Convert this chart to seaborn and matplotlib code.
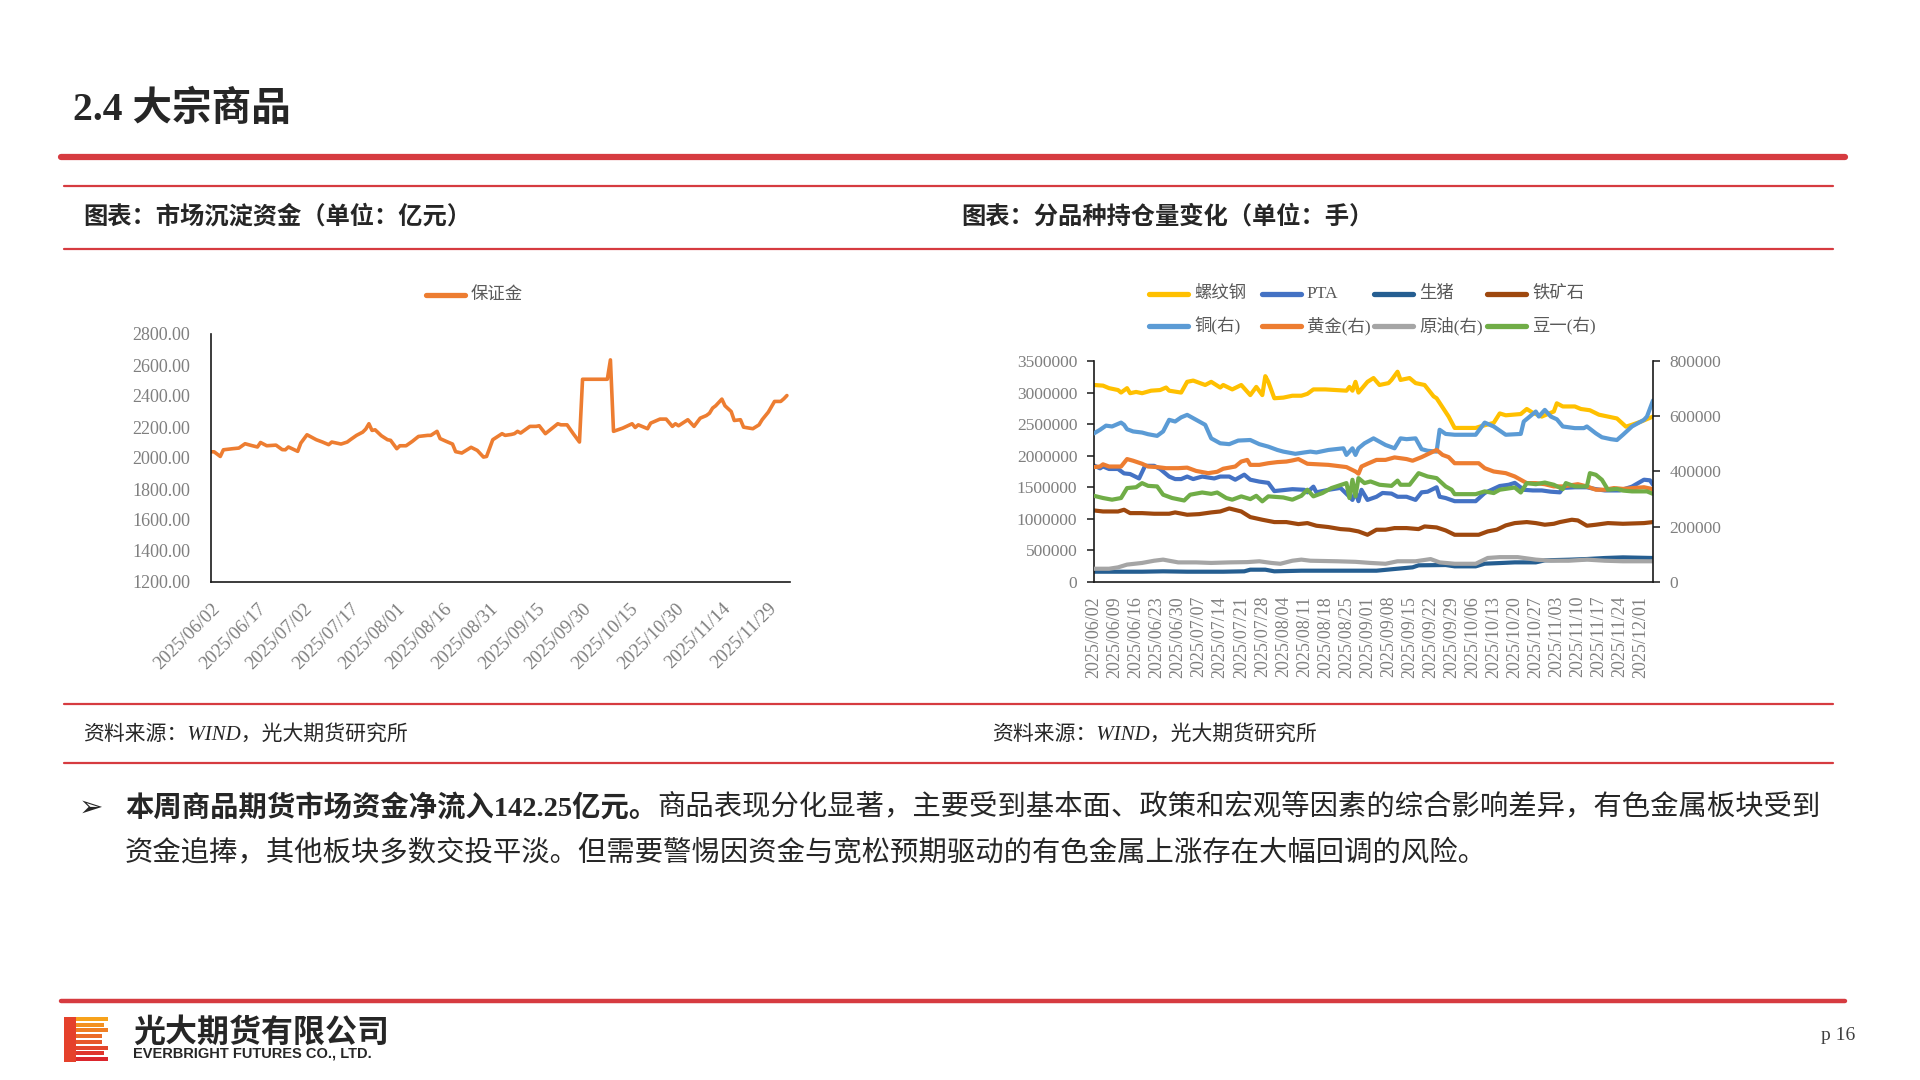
#!/usr/bin/env python3
"""Rebuild the commodity slide: market sediment funds + open interest by product."""

import matplotlib

matplotlib.use("Agg")

import matplotlib.dates as mdates  # noqa: E402
import matplotlib.pyplot as plt  # noqa: E402
import pandas as pd  # noqa: E402
import seaborn as sns  # noqa: E402
from matplotlib.lines import Line2D  # noqa: E402
from matplotlib.patches import Rectangle  # noqa: E402
from matplotlib.text import Annotation  # noqa: E402
from matplotlib.ticker import FuncFormatter  # noqa: E402

# ---------------------------------------------------------------- data
# left chart: 保证金 (亿元), dates are 2025 month-day
margin_dates = [
    "06-02", "06-03", "06-05", "06-06", "06-09", "06-11", "06-13", "06-15", "06-17", "06-18",
    "06-20", "06-23", "06-25", "06-26", "06-27", "06-30", "07-01", "07-03", "07-06", "07-08",
    "07-10", "07-11", "07-14", "07-16", "07-17", "07-19", "07-21", "07-22", "07-23", "07-24",
    "07-25", "07-27", "07-29", "07-30", "08-01", "08-02", "08-04", "08-06", "08-08", "08-11",
    "08-12", "08-14", "08-15", "08-17", "08-19", "08-20", "08-22", "08-25", "08-27", "08-29",
    "08-30", "09-01", "09-04", "09-05", "09-07", "09-08", "09-09", "09-10", "09-13", "09-15",
    "09-16", "09-18", "09-20", "09-22", "09-23", "09-25", "09-27", "09-29", "09-30", "10-08",
    "10-09", "10-10", "10-13", "10-16", "10-17", "10-18", "10-21", "10-22", "10-25", "10-27",
    "10-29", "10-30", "10-31", "11-03", "11-05", "11-07", "11-09", "11-10", "11-11", "11-12",
    "11-14", "11-15", "11-17", "11-18", "11-20", "11-21", "11-24", "11-26", "11-27", "11-29",
    "12-01", "12-03", "12-04", "12-05",
]
margin_values = [
    2040, 2040, 2010, 2053, 2060, 2064, 2092, 2081, 2071, 2100,
    2079, 2083, 2054, 2053, 2071, 2043, 2096, 2150, 2118, 2103,
    2086, 2103, 2090, 2103, 2118, 2146, 2167, 2187, 2221, 2178,
    2182, 2144, 2118, 2114, 2060, 2079, 2079, 2107, 2139, 2146,
    2146, 2172, 2125, 2107, 2090, 2041, 2032, 2069, 2049, 2006,
    2010, 2118, 2157, 2146, 2152, 2157, 2172, 2161, 2204, 2204,
    2208, 2157, 2189, 2221, 2214, 2214, 2157, 2103, 2508, 2508,
    2633, 2172, 2193, 2221, 2197, 2214, 2189, 2225, 2251, 2251,
    2204, 2221, 2208, 2247, 2204, 2257, 2274, 2289, 2322, 2337,
    2380, 2337, 2300, 2242, 2247, 2199, 2189, 2214, 2247, 2296,
    2365, 2365, 2382, 2403,
]
margin_ticks = ["06-02", "06-17", "07-02", "07-17", "08-01", "08-16", "08-31",
                "09-15", "09-30", "10-15", "10-30", "11-14", "11-29"]

# right chart: open interest (手); left axis
rebar_dates = [
    "06-02", "06-05", "06-07", "06-10", "06-11", "06-13", "06-14", "06-16", "06-18", "06-21",
    "06-24", "06-26", "06-27", "07-01", "07-03", "07-05", "07-09", "07-11", "07-14", "07-15",
    "07-18", "07-21", "07-24", "07-26", "07-28", "07-29", "07-30", "08-01", "08-04", "08-07",
    "08-10", "08-12", "08-14", "08-18", "08-25", "08-26", "08-27", "08-28", "08-29", "09-01",
    "09-03", "09-05", "09-08", "09-09", "09-11", "09-12", "09-15", "09-17", "09-20", "09-23",
    "09-24", "09-28", "09-30", "10-07", "10-09", "10-13", "10-15", "10-17", "10-22", "10-24",
    "10-26", "10-29", "11-02", "11-03", "11-05", "11-09", "11-11", "11-14", "11-17", "11-20",
    "11-23", "11-26", "11-28", "12-01", "12-05",
]
rebar_values = [
    3120000, 3110000, 3070000, 3040000, 3000000, 3070000, 2990000, 3010000, 2990000, 3030000,
    3040000, 3080000, 3030000, 3000000, 3170000, 3190000, 3120000, 3170000, 3080000, 3120000,
    3050000, 3120000, 2960000, 3090000, 2960000, 3260000, 3170000, 2910000, 2920000, 2950000,
    2950000, 2980000, 3050000, 3050000, 3030000, 3090000, 3030000, 3170000, 3000000, 3170000,
    3230000, 3120000, 3150000, 3200000, 3330000, 3200000, 3230000, 3150000, 3120000, 2940000,
    2910000, 2620000, 2440000, 2440000, 2470000, 2520000, 2670000, 2640000, 2660000, 2740000,
    2680000, 2620000, 2700000, 2830000, 2780000, 2780000, 2740000, 2720000, 2650000, 2620000,
    2590000, 2460000, 2490000, 2540000, 2620000,
]
pta_dates = [
    "06-02", "06-04", "06-05", "06-07", "06-10", "06-12", "06-14", "06-17", "06-19", "06-22",
    "06-24", "06-27", "06-29", "07-01", "07-03", "07-05", "07-08", "07-12", "07-14", "07-17",
    "07-19", "07-22", "07-24", "07-27", "07-30", "08-01", "08-03", "08-07", "08-11", "08-12",
    "08-14", "08-15", "08-19", "08-23", "08-26", "08-27", "08-28", "08-29", "08-30", "09-01",
    "09-04", "09-06", "09-09", "09-11", "09-14", "09-17", "09-19", "09-21", "09-24", "09-25",
    "09-27", "09-30", "10-07", "10-10", "10-15", "10-18", "10-20", "10-23", "10-26", "10-29",
    "11-01", "11-04", "11-05", "11-09", "11-13", "11-16", "11-19", "11-24", "11-28", "12-02",
    "12-04", "12-05",
]
pta_values = [
    1845000, 1800000, 1830000, 1790000, 1790000, 1720000, 1710000, 1640000, 1840000, 1840000,
    1790000, 1670000, 1630000, 1630000, 1670000, 1630000, 1670000, 1640000, 1670000, 1670000,
    1620000, 1700000, 1620000, 1590000, 1570000, 1440000, 1450000, 1470000, 1460000, 1420000,
    1510000, 1420000, 1460000, 1490000, 1350000, 1300000, 1430000, 1280000, 1460000, 1300000,
    1350000, 1410000, 1400000, 1350000, 1350000, 1300000, 1420000, 1430000, 1500000, 1350000,
    1330000, 1280000, 1280000, 1410000, 1520000, 1540000, 1570000, 1460000, 1450000, 1450000,
    1430000, 1420000, 1490000, 1500000, 1500000, 1470000, 1450000, 1450000, 1510000, 1620000,
    1610000, 1540000,
]
hog_dates = [
    "06-02", "06-18", "06-25", "07-03", "07-15", "07-22", "07-24", "07-29", "08-01", "08-10",
    "09-04", "09-10", "09-16", "09-18", "09-27", "09-30", "10-07", "10-10", "10-15", "10-20",
    "10-27", "10-30", "11-07", "11-13", "11-19", "11-25", "12-05",
]
hog_values = [
    163000, 163000, 169000, 163000, 163000, 169000, 195000, 195000, 169000, 179000,
    179000, 206000, 232000, 264000, 269000, 248000, 248000, 290000, 300000, 311000,
    311000, 343000, 353000, 364000, 380000, 390000, 380000,
]
ore_dates = [
    "06-02", "06-05", "06-10", "06-12", "06-14", "06-18", "06-22", "06-27", "06-29", "07-03",
    "07-07", "07-11", "07-14", "07-17", "07-21", "07-24", "07-28", "08-01", "08-05", "08-09",
    "08-12", "08-15", "08-19", "08-23", "08-26", "08-29", "09-01", "09-04", "09-07", "09-10",
    "09-14", "09-18", "09-20", "09-24", "09-27", "09-30", "10-08", "10-11", "10-14", "10-17",
    "10-20", "10-24", "10-27", "10-30", "11-02", "11-04", "11-08", "11-10", "11-13", "11-16",
    "11-20", "11-25", "12-02", "12-05",
]
ore_values = [
    1133000, 1117000, 1117000, 1144000, 1091000, 1091000, 1081000, 1081000, 1102000, 1065000,
    1075000, 1102000, 1117000, 1165000, 1117000, 1028000, 986000, 949000, 949000, 917000,
    933000, 891000, 870000, 838000, 828000, 801000, 748000, 828000, 828000, 854000,
    854000, 838000, 880000, 864000, 817000, 748000, 748000, 801000, 828000, 896000,
    933000, 949000, 933000, 907000, 922000, 949000, 986000, 975000, 891000, 907000,
    933000, 922000, 933000, 949000,
]

# right chart: right axis
copper_dates = [
    "06-02", "06-04", "06-06", "06-08", "06-11", "06-12", "06-13", "06-15", "06-18", "06-20",
    "06-23", "06-25", "06-27", "06-29", "07-01", "07-03", "07-06", "07-09", "07-11", "07-14",
    "07-17", "07-20", "07-24", "07-27", "07-30", "08-02", "08-04", "08-08", "08-11", "08-13",
    "08-15", "08-19", "08-24", "08-25", "08-27", "08-28", "08-29", "08-31", "09-03", "09-05",
    "09-07", "09-10", "09-12", "09-14", "09-17", "09-19", "09-21", "09-24", "09-25", "09-27",
    "09-30", "10-07", "10-10", "10-13", "10-15", "10-17", "10-22", "10-23", "10-27", "10-28",
    "10-30", "11-01", "11-03", "11-05", "11-09", "11-12", "11-13", "11-16", "11-18", "11-21",
    "11-23", "11-25", "11-28", "12-02", "12-03", "12-05",
]
copper_values = [
    538000, 551000, 566000, 563000, 577000, 569000, 553000, 545000, 541000, 535000,
    529000, 545000, 587000, 581000, 596000, 605000, 587000, 569000, 520000, 502000,
    499000, 512000, 514000, 499000, 490000, 478000, 472000, 464000, 469000, 472000,
    469000, 478000, 484000, 460000, 484000, 460000, 484000, 502000, 520000, 508000,
    496000, 484000, 520000, 517000, 520000, 481000, 475000, 472000, 551000, 536000,
    533000, 533000, 577000, 563000, 548000, 533000, 536000, 581000, 617000, 599000,
    623000, 599000, 589000, 563000, 557000, 557000, 563000, 538000, 524000, 517000,
    514000, 533000, 563000, 587000, 599000, 657000,
]
gold_dates = [
    "06-02", "06-04", "06-05", "06-07", "06-11", "06-13", "06-15", "06-18", "06-20", "06-23",
    "06-26", "06-30", "07-03", "07-06", "07-10", "07-13", "07-15", "07-19", "07-21", "07-23",
    "07-24", "07-27", "07-30", "08-02", "08-05", "08-07", "08-09", "08-12", "08-19", "08-25",
    "08-28", "08-29", "08-30", "09-01", "09-04", "09-07", "09-10", "09-14", "09-16", "09-19",
    "09-24", "09-26", "09-28", "09-30", "10-08", "10-10", "10-13", "10-17", "10-20", "10-22",
    "10-24", "10-27", "10-30", "11-02", "11-05", "11-10", "11-13", "11-16", "11-19", "11-22",
    "11-25", "12-02", "12-05",
]
gold_values = [
    416000, 418000, 426000, 418000, 418000, 445000, 439000, 428000, 418000, 416000,
    412000, 412000, 414000, 402000, 394000, 399000, 410000, 418000, 436000, 442000,
    424000, 424000, 430000, 434000, 436000, 440000, 445000, 428000, 424000, 416000,
    400000, 392000, 418000, 428000, 442000, 442000, 451000, 445000, 439000, 452000,
    478000, 460000, 452000, 430000, 430000, 412000, 400000, 394000, 382000, 370000,
    358000, 358000, 354000, 346000, 346000, 354000, 346000, 334000, 334000, 340000,
    337000, 343000, 336000,
]
crude_dates = [
    "06-02", "06-07", "06-10", "06-13", "06-18", "06-22", "06-25", "06-30", "07-06", "07-11",
    "07-17", "07-23", "07-27", "07-31", "08-03", "08-07", "08-10", "08-13", "08-22", "08-28",
    "09-02", "09-07", "09-11", "09-17", "09-22", "09-25", "09-30", "10-07", "10-11", "10-15",
    "10-21", "10-23", "10-27", "11-01", "11-07", "11-13", "11-19", "11-25", "12-05",
]
crude_values = [
    48000, 48000, 53000, 63000, 69000, 77000, 81000, 71000, 71000, 69000,
    71000, 72000, 75000, 69000, 66000, 77000, 81000, 77000, 75000, 73000,
    69000, 66000, 75000, 75000, 83000, 71000, 66000, 66000, 87000, 90000,
    90000, 87000, 81000, 77000, 77000, 81000, 77000, 75000, 75000,
]
soy_dates = [
    "06-02", "06-05", "06-08", "06-11", "06-13", "06-16", "06-18", "06-20", "06-23", "06-25",
    "06-28", "07-02", "07-04", "07-08", "07-11", "07-13", "07-16", "07-18", "07-21", "07-24",
    "07-26", "07-28", "07-30", "08-04", "08-07", "08-10", "08-12", "08-14", "08-17", "08-20",
    "08-25", "08-26", "08-27", "08-28", "08-29", "08-31", "09-02", "09-05", "09-09", "09-11",
    "09-12", "09-15", "09-18", "09-21", "09-24", "09-27", "09-29", "09-30", "10-07", "10-10",
    "10-13", "10-15", "10-20", "10-22", "10-24", "10-27", "10-30", "11-02", "11-05", "11-06",
    "11-09", "11-13", "11-14", "11-16", "11-18", "11-20", "11-23", "11-25", "11-28", "12-03",
    "12-05",
]
soy_values = [
    312000, 304000, 298000, 304000, 340000, 343000, 358000, 348000, 346000, 316000,
    304000, 295000, 316000, 324000, 319000, 324000, 304000, 298000, 310000, 300000,
    312000, 292000, 310000, 306000, 298000, 312000, 334000, 310000, 322000, 340000,
    358000, 304000, 370000, 310000, 376000, 358000, 364000, 352000, 348000, 367000,
    352000, 352000, 394000, 382000, 376000, 346000, 334000, 318000, 318000, 328000,
    322000, 334000, 342000, 324000, 358000, 354000, 360000, 352000, 336000, 358000,
    346000, 346000, 394000, 388000, 370000, 334000, 337000, 331000, 328000, 328000,
    319000,
]
oi_ticks = ["06-02", "06-09", "06-16", "06-23", "06-30", "07-07", "07-14", "07-21", "07-28",
            "08-04", "08-11", "08-18", "08-25", "09-01", "09-08", "09-15", "09-22", "09-29",
            "10-06", "10-13", "10-20", "10-27", "11-03", "11-10", "11-17", "11-24", "12-01"]

# ---------------------------------------------------------------- style
W, H = 1920, 1080
RED = "#D63B40"
TICK_GRAY = "#7F7F7F"
LEGEND_GRAY = "#595959"
FONT = ["Liberation Serif", "Noto Sans CJK SC"]

# (label, dates, values, colour, on right axis)
SERIES = [
    ("螺纹钢", rebar_dates, rebar_values, "#FFC000", False),
    ("PTA", pta_dates, pta_values, "#4472C4", False),
    ("生猪", hog_dates, hog_values, "#255E91", False),
    ("铁矿石", ore_dates, ore_values, "#9E480E", False),
    ("铜(右)", copper_dates, copper_values, "#5B9BD5", True),
    ("黄金(右)", gold_dates, gold_values, "#ED7D31", True),
    ("原油(右)", crude_dates, crude_values, "#A5A5A5", True),
    ("豆一(右)", soy_dates, soy_values, "#70AD47", True),
]


def fx(px):
    return px / W


def fy(py):
    return 1 - py / H


def to_dates(days):
    return pd.to_datetime(["2025-" + d for d in days])


def hline(fig, y, x0, x1, lw):
    fig.add_artist(Line2D([fx(x0), fx(x1)], [fy(y), fy(y)], color=RED, lw=lw))


def legend_item(fig, x, y, label, color):
    fig.add_artist(Line2D([fx(x), fx(x + 39)], [fy(y), fy(y)], color=color, lw=3.8))
    fig.text(fx(x + 45), fy(y), label, color=LEGEND_GRAY, fontsize=12.5, va="center")


def style_axis(ax):
    ax.tick_params(axis="both", direction="out", length=5, width=1.1, color="#1a1a1a",
                   labelcolor=TICK_GRAY, labelsize=13)
    for side in ("left", "bottom", "right"):
        ax.spines[side].set_color("#1a1a1a")
        ax.spines[side].set_linewidth(1.2)
    ax.spines["top"].set_visible(False)
    ax.grid(False)
    ax.set_xlabel("")
    ax.set_ylabel("")


def main():
    sns.set_style("white")
    plt.rcParams["font.family"] = FONT
    plt.rcParams["axes.unicode_minus"] = False

    fig = plt.figure(figsize=(W / 100, H / 100), dpi=100)

    # ---- header / frame lines
    fig.text(fx(73), fy(110), "2.4 大宗商品", fontsize=28.5, fontweight="bold", va="center")
    hline(fig, 157, 61, 1845, 4.5)
    for y in (186, 249, 704, 763):
        hline(fig, y, 64, 1833, 1.6)
    fig.text(fx(83), fy(217), "图表：市场沉淀资金（单位：亿元）", fontsize=17.5,
             fontweight="bold", va="center")
    fig.text(fx(961), fy(217), "图表：分品种持仓量变化（单位：手）", fontsize=17.5,
             fontweight="bold", va="center")
    for x in (83, 992):
        fig.text(fx(x), fy(735), "资料来源：WIND，光大期货研究所", fontsize=15,
                 style="italic", va="center")

    # ---- left chart: 保证金
    ax = fig.add_axes([fx(211), fy(582), 579 / W, 248 / H])
    sns.lineplot(x=to_dates(margin_dates), y=margin_values, ax=ax, color="#ED7D31",
                 linewidth=2.6, sort=False, estimator=None, legend=False)
    ax.set_ylim(1200, 2800)
    ax.set_yticks(range(1200, 2801, 200))
    ax.yaxis.set_major_formatter(FuncFormatter(lambda v, _: f"{v:.2f}"))
    ax.set_xlim(pd.Timestamp("2025-06-02"), pd.Timestamp("2025-12-06"))
    ax.set_xticks(to_dates(margin_ticks))
    ax.xaxis.set_major_formatter(mdates.DateFormatter("%Y/%m/%d"))
    style_axis(ax)
    ax.spines["right"].set_visible(False)
    ax.tick_params(axis="y", pad=10)
    ax.tick_params(axis="x", pad=8, labelsize=13.5)
    for lab in ax.get_xticklabels():
        lab.set_rotation(45)
        lab.set_ha("right")
        lab.set_va("top")
        lab.set_rotation_mode("anchor")
    legend_item(fig, 426, 295, "保证金", "#ED7D31")

    # ---- right chart: open interest
    axl = fig.add_axes([fx(1094), fy(582), 559 / W, 221 / H])
    axr = axl.twinx()
    for label, dates, values, color, right in SERIES:
        sns.lineplot(x=to_dates(dates), y=values, ax=axr if right else axl, color=color,
                     linewidth=3.0, sort=False, estimator=None, legend=False)
    axl.set_ylim(0, 3500000)
    axl.set_yticks(range(0, 3500001, 500000))
    axr.set_ylim(0, 800000)
    axr.set_yticks(range(0, 800001, 200000))
    for a in (axl, axr):
        a.yaxis.set_major_formatter(FuncFormatter(lambda v, _: f"{v:.0f}"))
        a.set_xlim(pd.Timestamp("2025-06-02"), pd.Timestamp("2025-12-05"))
        style_axis(a)
    axl.spines["right"].set_visible(False)
    axr.spines["left"].set_visible(False)
    axr.spines["bottom"].set_visible(False)
    axl.set_xticks(to_dates(oi_ticks))
    axl.xaxis.set_major_formatter(mdates.DateFormatter("%Y/%m/%d"))
    axl.tick_params(axis="y", pad=7, labelsize=12.5)
    axr.tick_params(axis="y", pad=7, labelsize=12.5)
    axl.tick_params(axis="x", pad=5, labelsize=13)
    for lab in axl.get_xticklabels():
        lab.set_rotation(90)
        lab.set_ha("center")
        lab.set_va("top")

    for i, (label, _, _, color, _) in enumerate(SERIES):
        legend_item(fig, 1149 + 112.7 * (i % 4), 294 if i < 4 else 326, label, color)

    # ---- commentary
    fig.text(fx(79), fy(808), "➢", family="DejaVu Sans", fontsize=21, va="center")
    bold = fig.text(fx(125), fy(808), "本周商品期货市场资金净流入142.25亿元。", fontsize=20.4,
                    fontweight="bold", va="center")
    fig.add_artist(Annotation(
        "商品表现分化显著，主要受到基本面、政策和宏观等因素的综合影响差异，有色金属板块受到",
        xy=(1, 0.5), xycoords=bold, va="center", fontsize=20.4))
    fig.text(fx(125), fy(854),
             "资金追捧，其他板块多数交投平淡。但需要警惕因资金与宽松预期驱动的有色金属上涨存在大幅回调的风险。",
             fontsize=20.4, va="center")

    # ---- footer
    hline(fig, 1001, 61, 1845, 3.2)
    stripes = ["#F7A21B", "#F39020", "#EF7E24", "#EB6B27", "#E7582A", "#E3462C",
               "#DF352D", "#DB262D"]
    lengths = [30, 26, 30, 24, 24, 30, 26, 30]
    for i, (c, ln) in enumerate(zip(stripes, lengths)):
        top = 1017 + i * 5.7
        fig.add_artist(Rectangle((fx(64), fy(top + 4)), (14 + ln) / W, 4 / H,
                                 transform=fig.transFigure, color=c, lw=0))
    fig.add_artist(Rectangle((fx(64), fy(1062)), 12 / W, 45 / H,
                             transform=fig.transFigure, color="#E5412B", lw=0))
    fig.text(fx(133), fy(1033), "光大期货有限公司", family="Noto Sans CJK SC", fontsize=23,
             fontweight="bold", va="center")
    fig.text(fx(133), fy(1054), "EVERBRIGHT FUTURES CO., LTD.", family="Liberation Sans",
             fontsize=10.5, fontweight="bold", va="center")
    fig.text(fx(1821), fy(1036), "p 16", fontsize=14, color="#404040", va="center")

    fig.savefig("out.png", dpi=100, facecolor="white")
    plt.close(fig)


if __name__ == "__main__":
    main()
